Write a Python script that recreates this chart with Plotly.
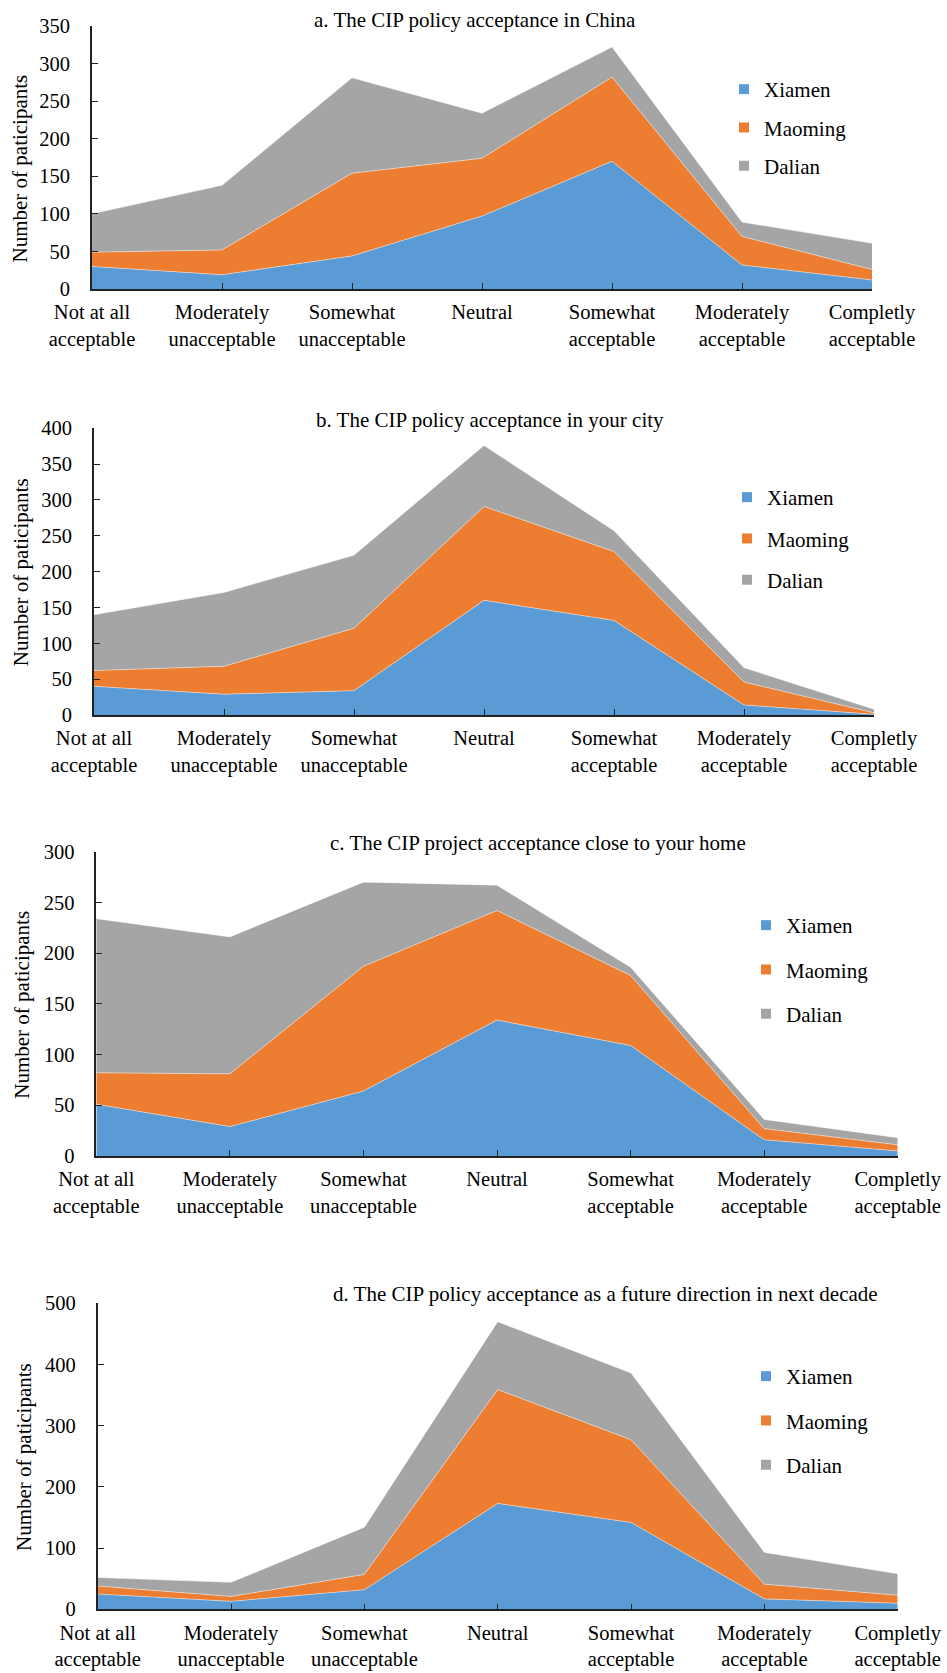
import plotly.graph_objects as go

# ---------------- data ----------------
categories = ["Not at all<br>acceptable", "Moderately<br>unacceptable", "Somewhat<br>unacceptable",
              "Neutral", "Somewhat<br>acceptable", "Moderately<br>acceptable", "Completly<br>acceptable"]
cities = ["Xiamen", "Maoming", "Dalian"]
colors = ["#5B9BD5", "#ED7D31", "#A5A5A5"]

titles = ["a. The CIP policy acceptance in China",
          "b. The CIP policy acceptance in your city",
          "c. The CIP project acceptance close to your home",
          "d. The CIP policy acceptance as a future direction in next decade"]

a_xiamen = [30, 19, 44, 97, 170, 32, 12]
a_maoming = [19, 33, 110, 77, 112, 38, 14]
a_dalian = [51, 86, 127, 60, 40, 19, 35]

b_xiamen = [40, 29, 34, 160, 132, 14, 1]
b_maoming = [22, 39, 87, 131, 96, 32, 2]
b_dalian = [78, 103, 102, 85, 29, 20, 5]

c_xiamen = [51, 29, 64, 134, 109, 16, 5]
c_maoming = [31, 52, 123, 108, 69, 11, 6]
c_dalian = [152, 135, 83, 25, 8, 9, 7]

d_xiamen = [25, 13, 32, 173, 142, 17, 10]
d_maoming = [13, 8, 25, 186, 135, 24, 13]
d_dalian = [14, 23, 77, 111, 109, 52, 35]

y_max = [350, 400, 300, 500]
y_dtick = [50, 50, 50, 100]
y_title = "Number of paticipants"

series = [[a_xiamen, a_maoming, a_dalian],
          [b_xiamen, b_maoming, b_dalian],
          [c_xiamen, c_maoming, c_dalian],
          [d_xiamen, d_maoming, d_dalian]]

# ---------------- layout (pixels) ----------------
W, H = 947, 1673
FONT = "Liberation Serif"

layout_px = [
    dict(x0=92, x1=872, ytop=26, ybot=289, tx=475, ty=19.5, lx=724, ly=69, gap=8, yx=20, yy=168.5),
    dict(x0=94, x1=874, ytop=428.3, ybot=715, tx=490, ty=420, lx=727, ly=477, gap=11, yx=21.7, yy=572.5),
    dict(x0=96.3, x1=897.7, ytop=851.7, ybot=1156, tx=538, ty=843, lx=746, ly=905, gap=14, yx=21.7, yy=1005),
    dict(x0=97.7, x1=897.7, ytop=1303.3, ybot=1609.3, tx=605.5, ty=1294, lx=746, ly=1356, gap=14, yx=23.3, yy=1456.7),
]

def px_x(v):
    return v / W

def px_y(v):
    return 1 - v / H

fig = go.Figure()
xs = list(range(len(categories)))
annotations = []
lay = dict()

for i, (vals, P) in enumerate(zip(series, layout_px)):
    n = "" if i == 0 else str(i + 1)
    xa, ya = "x" + n, "y" + n
    leg = "legend" + n
    for name, v, col in zip(cities, vals, colors):
        fig.add_trace(go.Scatter(
            x=xs, y=v, name=name, mode="lines", stackgroup="s" + str(i),
            line=dict(width=0.8, color="rgba(255,255,255,0.55)"),
            fillcolor=col, xaxis=xa, yaxis=ya, showlegend=False, hoverinfo="x+y+name"))
    for name, col in zip(cities, colors):
        fig.add_trace(go.Scatter(
            x=[None], y=[None], name=name, mode="markers",
            marker=dict(symbol="square", size=10, color=col),
            xaxis=xa, yaxis=ya, legend=leg, legendgroup=name + n, showlegend=True))

    lay["xaxis" + n] = dict(
        domain=[px_x(P["x0"]), px_x(P["x1"])], range=[0, 6], anchor=ya, automargin=False,
        tickmode="array", tickvals=xs, ticktext=categories,
        ticks="inside", ticklen=6, tickcolor="#222", tickwidth=1.3,
        showline=True, linecolor="#222", linewidth=1.6, showgrid=False, zeroline=False,
        tickfont=dict(family=FONT, size=20.5, color="black"), ticklabelstandoff=4,
        fixedrange=True)
    lay["yaxis" + n] = dict(
        domain=[px_y(P["ybot"]), px_y(P["ytop"])], range=[0, y_max[i]], anchor=xa, automargin=False,
        dtick=y_dtick[i], tick0=0,
        ticks="inside", ticklen=6, tickcolor="#222", tickwidth=1.3,
        showline=True, linecolor="#222", linewidth=1.6, showgrid=False, zeroline=False,
        tickfont=dict(family=FONT, size=20.5, color="black"), ticklabelstandoff=16,
        fixedrange=True)
    lay[leg] = dict(
        x=px_x(P["lx"]), y=px_y(P["ly"]), xanchor="left", yanchor="top",
        font=dict(family=FONT, size=21, color="black"), bgcolor="rgba(0,0,0,0)",
        borderwidth=0, tracegroupgap=P["gap"], traceorder="grouped")
    annotations.append(dict(
        text=titles[i], x=px_x(P["tx"]), y=px_y(P["ty"]), xref="paper", yref="paper",
        xanchor="center", yanchor="middle", showarrow=False,
        font=dict(family=FONT, size=21, color="black")))
    annotations.append(dict(
        text=y_title, x=px_x(P["yx"]), y=px_y(P["yy"]), xref="paper", yref="paper",
        xanchor="center", yanchor="middle", showarrow=False, textangle=-90,
        font=dict(family=FONT, size=21, color="black")))

fig.update_layout(
    width=W, height=H, margin=dict(l=0, r=0, t=0, b=0, autoexpand=False),
    paper_bgcolor="white", plot_bgcolor="white",
    font=dict(family=FONT, color="black"),
    annotations=annotations, **lay)

fig.write_html("out.html", config={"displayModeBar": False},
               post_script="document.body.style.margin='0';document.body.style.overflow='hidden';")
